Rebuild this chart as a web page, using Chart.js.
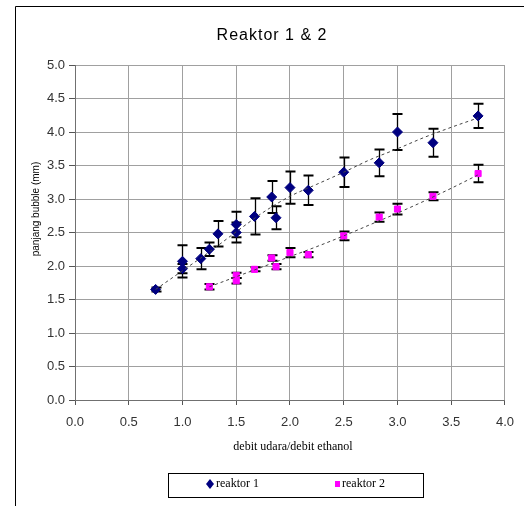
<!DOCTYPE html>
<html>
<head>
<meta charset="utf-8">
<script src="https://cdn.jsdelivr.net/npm/chart.js@4.4.1/dist/chart.umd.min.js"></script>
<style>
  html, body { margin: 0; padding: 0; background: #fff; }
  #wrap { width: 524px; height: 506px; position: relative; }
</style>
</head>
<body>
<div id="wrap"><canvas id="c" width="524" height="506"></canvas></div>
<script>
// Reaktor 1: air/ethanol flow ratio vs bubble length (mm), with error
const r1x   = [0.75, 1.0, 1.0, 1.17, 1.25, 1.33, 1.5, 1.5, 1.67, 1.83, 1.87, 2.0, 2.17, 2.5, 2.83, 3.0, 3.33, 3.75];
const r1y   = [1.65, 2.07, 1.96, 2.11, 2.25, 2.48, 2.62, 2.50, 2.74, 3.03, 2.72, 3.17, 3.13, 3.40, 3.54, 4.00, 3.84, 4.24];
const r1err = [0.03, 0.24, 0.07, 0.16, 0.10, 0.19, 0.19, 0.15, 0.27, 0.24, 0.17, 0.24, 0.22, 0.22, 0.20, 0.27, 0.21, 0.18];

// Reaktor 2
const r2x   = [1.25, 1.5, 1.5, 1.67, 1.83, 1.87, 2.0, 2.17, 2.5, 2.83, 3.0, 3.33, 3.75];
const r2y   = [1.69, 1.86, 1.78, 1.95, 2.12, 1.99, 2.20, 2.17, 2.45, 2.73, 2.85, 3.04, 3.38];
const r2err = [0.04, 0.04, 0.04, 0.03, 0.04, 0.04, 0.07, 0.04, 0.065, 0.07, 0.08, 0.06, 0.13];

// Trend lines
const t1x = [0.75, 1.0, 1.25, 1.5, 1.75, 2.0, 2.25, 2.5, 2.75, 3.0, 3.25, 3.5, 3.75];
const t1y = [1.65, 1.93, 2.21, 2.51, 2.80, 3.04, 3.22, 3.40, 3.59, 3.75, 3.92, 4.07, 4.21];
const t2x = [1.25, 1.5, 1.75, 2.0, 2.25, 2.5, 2.75, 3.0, 3.25, 3.5, 3.75];
const t2y = [1.69, 1.84, 1.99, 2.14, 2.29, 2.45, 2.62, 2.79, 2.97, 3.16, 3.36];

// Axis ticks
const xTicks = [0, 0.5, 1.0, 1.5, 2.0, 2.5, 3.0, 3.5, 4.0];
const yTicks = [0, 0.5, 1.0, 1.5, 2.0, 2.5, 3.0, 3.5, 4.0, 4.5, 5.0];

const titleText  = 'Reaktor 1 & 2';
const xTitleText = 'debit udara/debit ethanol';
const yTitleText = 'panjang bubble (mm)';
const seriesNames = ['reaktor 1', 'reaktor 2'];

const NAVY = '#000080';
const MAGENTA = '#ff00ff';

const pts = (xs, ys) => xs.map((x, i) => ({ x: x, y: ys[i] }));

const errorSets = [
  { dataset: 2, errs: r1err },
  { dataset: 3, errs: r2err }
];

const deco = {
  id: 'deco',
  beforeDatasetsDraw(chart) {
    const ctx = chart.ctx;
    const ys = chart.scales.y;
    ctx.save();
    ctx.strokeStyle = '#000';
    errorSets.forEach(set => {
      const meta = chart.getDatasetMeta(set.dataset);
      const data = chart.data.datasets[set.dataset].data;
      meta.data.forEach((el, i) => {
        const v = data[i].y, e = set.errs[i];
        const x = Math.round(el.x) + 0.5;
        const yt = ys.getPixelForValue(v + e);
        const yb = ys.getPixelForValue(v - e);
        ctx.lineWidth = 1.3;
        ctx.beginPath();
        ctx.moveTo(x, yt); ctx.lineTo(x, yb);
        ctx.stroke();
        ctx.lineWidth = 2;
        ctx.beginPath();
        ctx.moveTo(x - 5, yt); ctx.lineTo(x + 5, yt);
        ctx.moveTo(x - 5, yb); ctx.lineTo(x + 5, yb);
        ctx.stroke();
      });
    });
    ctx.restore();
  },
  afterDraw(chart) {
    const ctx = chart.ctx;
    ctx.save();
    // outer frame
    ctx.strokeStyle = '#000';
    ctx.lineWidth = 1;
    ctx.beginPath();
    ctx.moveTo(15.5, 506); ctx.lineTo(15.5, 6.5); ctx.lineTo(524, 6.5);
    ctx.stroke();

    // title
    ctx.fillStyle = '#000';
    ctx.font = '16px "Liberation Sans", Arial, sans-serif';
    ctx.letterSpacing = '1px';
    ctx.textAlign = 'center';
    ctx.textBaseline = 'alphabetic';
    ctx.fillText(titleText, 272, 40);
    ctx.letterSpacing = '0px';

    // y axis title
    ctx.save();
    ctx.translate(36, 209);
    ctx.rotate(-Math.PI / 2);
    ctx.font = '10px "Liberation Sans", Arial, sans-serif';
    ctx.textAlign = 'center';
    ctx.textBaseline = 'middle';
    ctx.fillText(yTitleText, 0, 0);
    ctx.restore();

    // x axis title
    ctx.font = '12px "Liberation Serif", "Times New Roman", serif';
    ctx.textAlign = 'center';
    ctx.textBaseline = 'middle';
    ctx.fillText(xTitleText, 293, 447);

    // legend
    ctx.lineWidth = 1;
    ctx.strokeStyle = '#000';
    ctx.strokeRect(168.5, 473.5, 255, 24);
    const ly = 484;
    ctx.fillStyle = NAVY;
    ctx.beginPath();
    ctx.moveTo(210, ly - 5); ctx.lineTo(214, ly); ctx.lineTo(210, ly + 5); ctx.lineTo(206, ly);
    ctx.closePath();
    ctx.fill();
    ctx.fillStyle = MAGENTA;
    ctx.fillRect(335, ly - 3, 5, 6);
    ctx.fillStyle = '#000';
    ctx.font = '12px "Liberation Serif", "Times New Roman", serif';
    ctx.textAlign = 'left';
    ctx.fillText(seriesNames[0], 216, ly);
    ctx.fillText(seriesNames[1], 342, ly);
    ctx.restore();
  }
};

new Chart(document.getElementById('c'), {
  type: 'scatter',
  data: {
    datasets: [
      {
        label: 'trend 1', type: 'line', data: pts(t1x, t1y),
        borderColor: '#444', borderWidth: 1, borderDash: [3, 3],
        pointRadius: 0, fill: false, tension: 0.4, cubicInterpolationMode: 'monotone'
      },
      {
        label: 'trend 2', type: 'line', data: pts(t2x, t2y),
        borderColor: '#444', borderWidth: 1, borderDash: [3, 3],
        pointRadius: 0, fill: false, tension: 0.4, cubicInterpolationMode: 'monotone'
      },
      {
        label: seriesNames[0], data: pts(r1x, r1y),
        pointStyle: 'rectRot', pointRadius: 5,
        backgroundColor: NAVY, borderColor: NAVY, borderWidth: 1
      },
      {
        label: seriesNames[1], data: pts(r2x, r2y),
        pointStyle: 'rect', pointRadius: 4.3,
        backgroundColor: MAGENTA, borderColor: MAGENTA, borderWidth: 1
      }
    ]
  },
  options: {
    responsive: false,
    animation: false,
    layout: { autoPadding: false, padding: { left: 0, top: 65, right: 11, bottom: 66 } },
    plugins: { legend: { display: false }, title: { display: false }, tooltip: { enabled: false } },
    scales: {
      x: {
        type: 'linear', min: 0, max: 4,
        afterBuildTicks: s => { s.ticks = xTicks.map(v => ({ value: v })); },
        afterFit: s => { s.height = 40; },
        grid: { color: '#a0a0a0', lineWidth: 1, tickLength: 5, tickColor: '#555' },
        border: { color: '#707070', width: 1 },
        ticks: {
          color: '#333', padding: 10,
          font: { family: '"Liberation Sans", Arial, sans-serif', size: 13 },
          callback: v => Number(v).toFixed(1)
        }
      },
      y: {
        type: 'linear', min: 0, max: 5,
        afterBuildTicks: s => { s.ticks = yTicks.map(v => ({ value: v })); },
        afterFit: s => { s.width = 75; },
        grid: { color: '#a0a0a0', lineWidth: 1, tickLength: 6, tickColor: '#555' },
        border: { color: '#707070', width: 1 },
        ticks: {
          color: '#333', padding: 4,
          font: { family: '"Liberation Sans", Arial, sans-serif', size: 13 },
          callback: v => Number(v).toFixed(1)
        }
      }
    }
  },
  plugins: [deco]
});
</script>
</body>
</html>
